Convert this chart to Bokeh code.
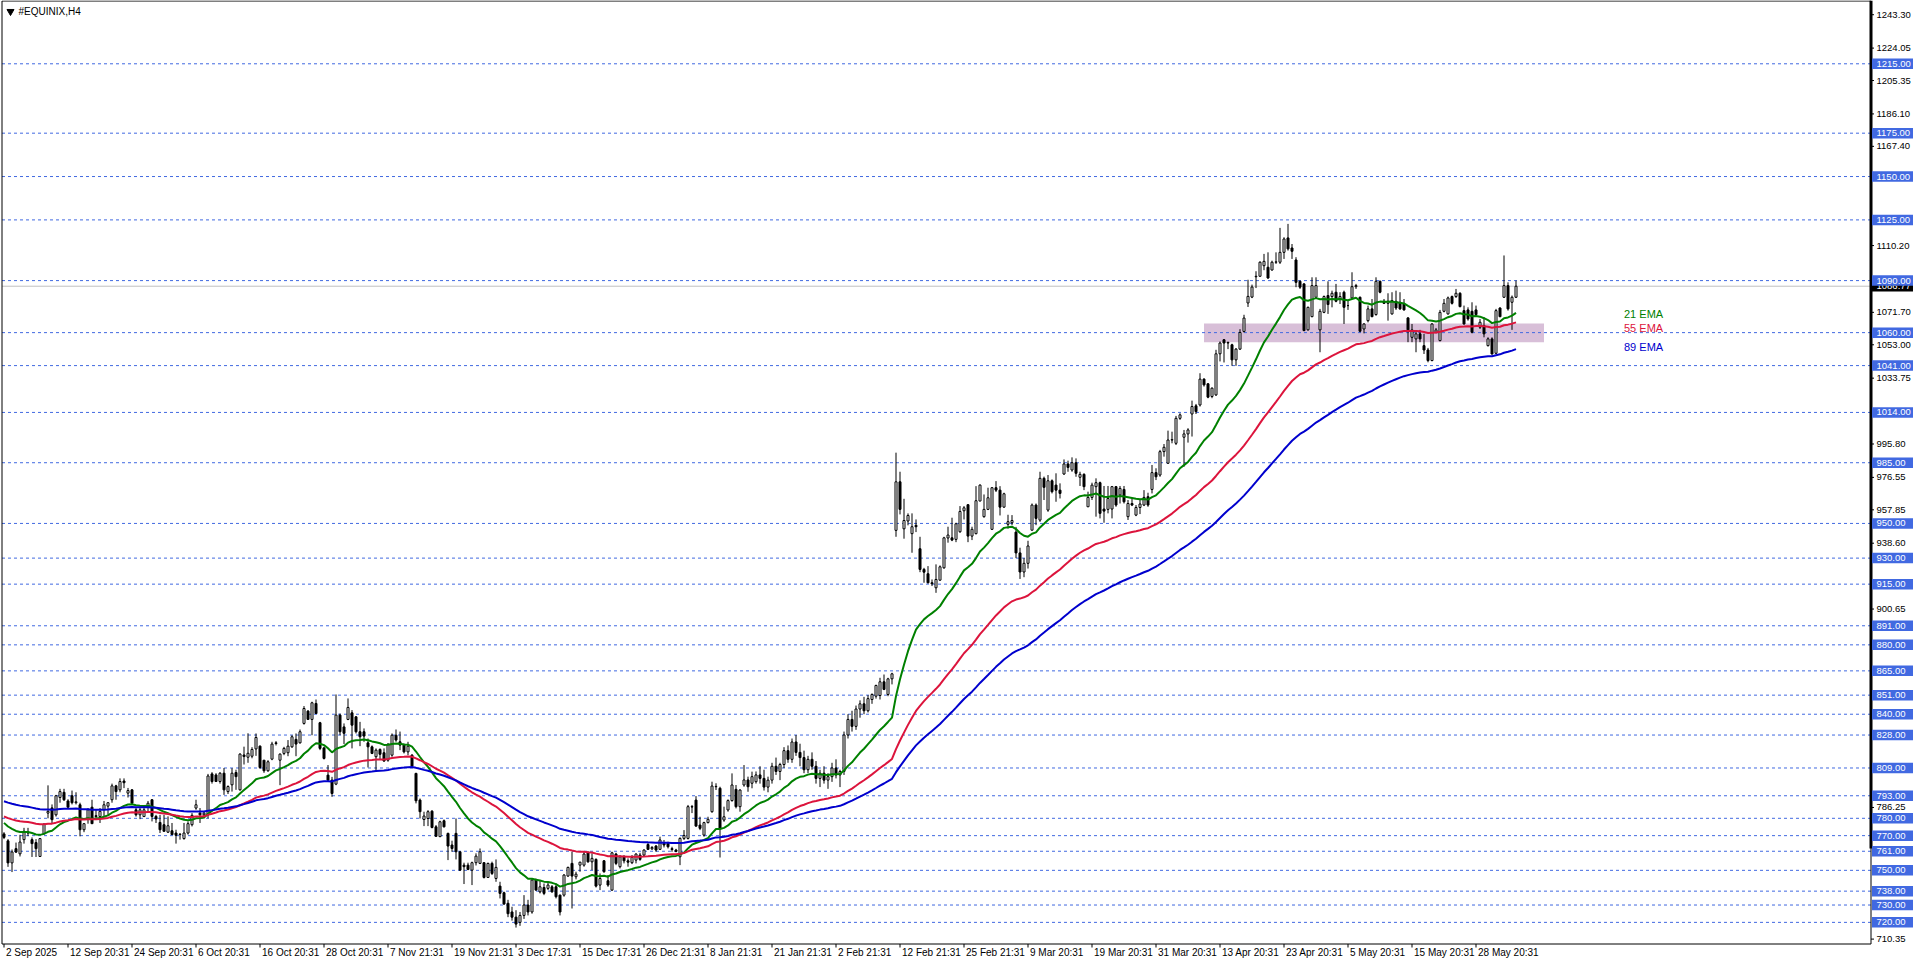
from bokeh.plotting import figure
from bokeh.models import Range1d, ColumnDataSource
from bokeh.embed import file_html
from bokeh.resources import INLINE
from bokeh.core.properties import value

symbol_title = "#EQUINIX,H4"

opens = [
 771, 767, 754.3, 762.5, 759.5, 767.7, 772, 767.7, 766, 758,
 771, 783, 786, 782, 792, 795, 790, 793, 789, 787.8,
 773.4, 780, 786.4, 781.5, 781, 785, 787, 790.7, 798.7, 796.4,
 801.5, 794.5, 796.4, 784.9, 782, 781, 786.4, 790.7, 781.1, 777.6,
 776.3, 772, 772.8, 771.5, 770.6, 768.3, 771.5, 776.3, 785.9, 783,
 782, 782, 805.6, 805, 801.2, 806, 795.4, 799.3, 806.4, 796.4,
 816.5, 815.2, 815.8, 820, 821.6, 813.5, 807.4, 814.1, 823.5, 813.5,
 817.4, 817.8, 821.2, 825.5, 823.5, 834.7, 841.8, 837.0, 846.2, 835.1,
 820.6, 804.9, 802.0, 799.7, 839.5, 832.7, 837.0, 840.8, 838.5, 829.9,
 829.9, 823.5, 821.2, 815.5, 819.7, 817.8, 813.5, 816.4, 827.9, 824.1,
 822.2, 818.3, 816.4, 805.9, 790.5, 779.3, 779.9, 784.1, 775.1, 769.4,
 778.6, 771.3, 764.6, 771.3, 760.7, 753.0, 753.0, 750.1, 754.4, 754.0,
 754.4, 745.9, 754.0, 745.3, 740.9, 737.1, 731, 726, 723, 720,
 724, 730, 726, 744.4, 737.6, 740.1, 739.6, 740.5, 740.5, 735.7,
 735.7, 746.7, 754.0, 746.3, 753.0, 753.0, 760.1, 754.9, 756.3, 741.5,
 755.5, 744.0, 738.6, 759.4, 752.1, 757.8, 755.5, 754.4, 755.9, 758.8,
 758.8, 764.9, 762.4, 764.0, 762.1, 765.5, 765.5, 762.5, 761.7, 757.8,
 768.4, 768.4, 786.7, 790.5, 776.1, 770.3, 777.5, 783.8, 798.2, 797.3,
 779.0, 784.8, 790.2, 796.7, 786.7, 799.2, 802.1, 800.2, 801.1, 805,
 803, 798, 802, 810, 807, 811, 819, 814, 824, 818,
 815, 808, 814, 810, 803, 806, 802, 804, 809, 805,
 807, 828, 837, 833, 843, 846, 842, 848.5, 850.4, 850.8,
 858.7, 851.4, 860.4, 946.0, 974.0, 946.9, 951.4, 944.1, 948.9, 935.4,
 923.5, 921.0, 915.8, 912.9, 917.3, 924.4, 941.6, 941.7, 940.8, 945.2,
 957.3, 960.8, 942.7, 944.1, 962.9, 953.9, 958.1, 946.6, 970.6, 969.2,
 959.4, 949.5, 950.4, 945, 933, 922, 927, 946.1, 960.6, 951.9,
 976.0, 957.7, 974.6, 972.1, 969.2, 978.5, 984.3, 980.8, 985.0, 976.6,
 978.3, 959.6, 965.0, 971.2, 973.5, 958.3, 958.1, 958.3, 971.2, 966.4,
 969.6, 953.9, 961.5, 954.8, 959.2, 960.6, 965.4, 969.6, 979.3, 977.9,
 991.4, 984.7, 998.1, 996.2, 1010.6, 999.7, 1001.6, 1013.1, 1017.8, 1018.3,
 1033.2, 1030.5, 1023.2, 1024.1, 1047.8, 1055.9, 1054.3, 1053.0, 1044.3, 1050.5,
 1060.7, 1077.1, 1080.5, 1092.2, 1092.5, 1098.6, 1097.7, 1096.1, 1100.6, 1100.6,
 1106.3, 1114.6, 1108.8, 1101.9, 1089.6, 1088.1, 1061.6, 1069.2, 1080.4, 1061.6,
 1071.7, 1081.4, 1080.8, 1083.3, 1079.4, 1083.3, 1075.6, 1080.0, 1086.5, 1080.4,
 1062.1, 1066.9, 1073.7, 1070.4, 1089.6, 1078.1, 1076.9, 1070.8, 1078.1, 1077.5,
 1076.5, 1068.5, 1057.3, 1056.4, 1059.3, 1052.5, 1050.0, 1043.9, 1060.2, 1055.4,
 1072.3, 1070.8, 1080.8, 1080.8, 1082.7, 1072.7, 1073.1, 1072.3, 1073.1, 1063.1,
 1064.1, 1052.5, 1056.4, 1048.1, 1074.2, 1080.4, 1087.1, 1077.5, 1080.4,
]

highs = [
 772, 768, 762, 766, 770.5, 774.5, 774.5, 769, 768, 768.5,
 777, 799, 788, 793.5, 797, 797, 791, 796, 795, 789,
 777, 785.9, 790.7, 785, 785.9, 790, 789, 800, 799.3, 803,
 803, 797.5, 796.8, 786, 786.4, 786.4, 790, 791, 782, 782,
 782, 781.1, 777.3, 773.4, 771.5, 777.3, 778.2, 783, 790.7, 785.9,
 784, 805.6, 806.6, 806, 806.6, 809, 799, 808.9, 808, 817.5,
 821.3, 829, 821, 828.9, 822.0, 813.5, 813.5, 824.1, 824.5, 817.4,
 821.2, 825.1, 827.9, 828.9, 831.2, 844.7, 842.4, 847.2, 848.5, 835.6,
 821.2, 810.7, 803.9, 851.4, 840.4, 834.7, 849.1, 842.4, 838.9, 835.6,
 831.8, 826.0, 822.0, 820.3, 820.3, 820.3, 823.1, 828.9, 831.2, 830.0,
 823.1, 824.1, 817.0, 806.2, 791.4, 783.8, 784.7, 784.7, 776.1, 778.6,
 779.3, 771.7, 767.1, 779.9, 760.7, 754.4, 754.4, 755.0, 759.8, 762.6,
 754.8, 754.4, 755.0, 756.3, 743.4, 737.7, 733, 729, 727, 726,
 735.7, 733, 744.8, 745.3, 744.4, 742.4, 743.4, 741.5, 742.4, 736.0,
 747.8, 752.1, 760.7, 749.2, 754.9, 760.7, 761.1, 759.8, 756.9, 748.2,
 755.9, 747.3, 760.7, 760.1, 758.8, 758.8, 756.9, 758.8, 759.8, 760.1,
 762.1, 765.9, 764.0, 764.6, 769.4, 767.5, 766.5, 763.6, 762.4, 769.0,
 773.2, 787.7, 787.7, 792.8, 780.9, 778.0, 780.9, 801.1, 800.2, 798.2,
 786.7, 790.9, 805.9, 799.2, 796.7, 810.7, 804.0, 806.9, 807, 810,
 808, 804, 812, 815, 812, 821, 822, 826, 828, 823,
 819, 816, 818, 813, 808, 810, 806, 812, 814, 808,
 830, 840, 842, 845, 848, 850, 851, 852, 857, 861,
 862.9, 861, 863.9, 990.8, 979.8, 964.2, 955.8, 955.8, 952.3, 942.3,
 924.4, 925.4, 917.7, 926.4, 925.8, 942.3, 948.1, 953.3, 950.4, 960.0,
 960.0, 961.0, 948.1, 971.5, 972.5, 966.7, 970.6, 971.0, 974.4, 971.5,
 967.7, 955, 954.8, 948, 936, 930, 940, 961.5, 961.5, 979.8,
 977, 977.9, 975.4, 978.9, 973.1, 986.9, 986.2, 988.1, 987.5, 979.8,
 978.9, 968.3, 973.5, 976.0, 974.1, 971.6, 971.6, 971.6, 971.6, 971.6,
 971.6, 963.5, 964.4, 960.6, 963.5, 969.2, 967.7, 983.7, 981.8, 992.4,
 995.8, 1003.5, 1002.9, 1012.0, 1013.5, 1003.9, 1004.9, 1020.8, 1018.9, 1036.6,
 1033.7, 1030.9, 1028.4, 1050.1, 1054.9, 1056.3, 1054.9, 1053.6, 1051.1, 1062.0,
 1070.3, 1090.5, 1087.7, 1095.4, 1101.1, 1105.4, 1106.3, 1101.5, 1106.3, 1120.4,
 1115.0, 1122.7, 1111.1, 1103.5, 1090.0, 1088.5, 1075.0, 1091.9, 1091.9, 1073.7,
 1081.4, 1089.6, 1084.2, 1088.1, 1083.3, 1084.2, 1078.5, 1094.8, 1088.1, 1080.8,
 1065.4, 1075.6, 1079.4, 1091.9, 1090.0, 1079.4, 1082.7, 1083.3, 1084.2, 1083.3,
 1079.4, 1068.9, 1065.0, 1061.2, 1061.6, 1059.3, 1051.2, 1065.4, 1062.7, 1073.1,
 1079.4, 1080.8, 1081.4, 1085.2, 1083.3, 1075.6, 1074.6, 1077.5, 1075.6, 1067.9,
 1068.9, 1057.3, 1057.3, 1073.7, 1074.6, 1104.5, 1089.0, 1081.4, 1090.0,
]

lows = [
 768, 752, 749, 760, 758, 765.4, 769.7, 757.7, 757.7, 758,
 771, 780, 777, 781, 789, 790, 786, 788, 788, 769.6,
 772, 776.9, 776.9, 779, 777.3, 781, 782, 789, 790.7, 795,
 797.4, 792, 787.8, 781, 779.5, 781, 784, 778.2, 777.3, 771.5,
 772.5, 771.5, 770.6, 765.4, 767.7, 767.7, 770.6, 775.3, 784.9, 777.3,
 780, 780, 800, 801, 800, 793.5, 794, 795.4, 796.4, 796,
 811, 812, 814.6, 816, 808.5, 806.2, 806.8, 813.5, 822.0, 799.1,
 816.4, 815.8, 820.6, 815.8, 823.1, 834.0, 837.0, 827.9, 840.4, 819.3,
 813.9, 801.1, 792.4, 799.1, 827.9, 822.8, 836.6, 820.3, 828.9, 821.6,
 824.1, 809.3, 817.0, 806.8, 814.1, 812.6, 812.6, 815.5, 824.1, 819.3,
 817.4, 816.4, 809.3, 788.6, 779.9, 775.5, 775.5, 774.2, 769.4, 769.4,
 774.7, 755.9, 760.7, 756.3, 749.8, 742.1, 750.1, 741.5, 752.8, 753.6,
 745.3, 745.9, 747.3, 743.4, 733.8, 730.0, 723, 721, 717, 718,
 722, 724, 725, 738.2, 736.7, 735.7, 738.6, 737.1, 733.8, 724.0,
 734.8, 746.3, 728.0, 744.8, 749.2, 752.1, 754.4, 750.1, 740.1, 738.6,
 748.6, 740.5, 738.2, 753.0, 751.1, 754.0, 752.1, 753.6, 754.0, 755.5,
 757.8, 761.7, 761.7, 760.7, 761.7, 763.2, 762.6, 760.7, 760.4, 753.0,
 767.5, 767.8, 783.0, 775.1, 773.2, 769.4, 777.1, 783.2, 796.3, 757.4,
 778.0, 783.8, 789.6, 785.7, 783.8, 798.2, 795.3, 797.3, 800, 800,
 796, 795, 800, 805, 802, 809, 812, 812, 816, 810,
 806, 806, 808, 800, 798, 800, 797, 801, 803, 798,
 805, 826, 830, 831, 838, 840, 841, 846, 849, 848.5,
 853.9, 850.4, 857.2, 942.3, 955.2, 941.2, 948.9, 933.1, 945.0, 921.9,
 915.8, 915.4, 913.9, 910.0, 916.9, 923.9, 938.9, 939.8, 939.2, 944.6,
 952.3, 939.2, 940.4, 943.7, 962.9, 953.3, 957.7, 946.2, 968.1, 954.6,
 959.0, 947, 949, 930, 918, 919, 924, 946.1, 949, 950.9,
 963.5, 956.7, 967.3, 962.5, 964.4, 978, 979.8, 979.8, 976.9, 971.6,
 969.2, 959.6, 963.5, 953.9, 952.9, 950.4, 955.8, 952.9, 959.6, 961.5,
 961.5, 952.0, 960.0, 954.2, 955.4, 960.0, 959.6, 967.3, 975.0, 976.9,
 988.5, 984.3, 996.2, 995.2, 1009.7, 982.7, 996.6, 1000.1, 1013.1, 1017.4,
 1028.9, 1022.2, 1022.2, 1023.5, 1043.4, 1042.8, 1050.5, 1040.9, 1040.9, 1050.1,
 1060.1, 1074.8, 1079.9, 1085.7, 1092.5, 1096, 1091.0, 1095.8, 1099.6, 1099.6,
 1102.5, 1107.3, 1102.5, 1086.2, 1085.2, 1060.8, 1061.2, 1068.9, 1079.4, 1048.7,
 1071.2, 1070.8, 1074.6, 1077.5, 1076.5, 1065.0, 1073.1, 1079.4, 1085.2, 1060.2,
 1059.6, 1065.9, 1068.9, 1069.8, 1082.7, 1076.5, 1066.9, 1070.4, 1073.1, 1073.1,
 1072.7, 1054.5, 1054.5, 1048.7, 1054.5, 1047.7, 1042.9, 1043.5, 1059.6, 1055.0,
 1071.7, 1070.4, 1076.2, 1080.0, 1074.6, 1064.6, 1066.9, 1059.6, 1069.8, 1062.1,
 1057.3, 1052.0, 1047.3, 1047.7, 1068.9, 1080.0, 1072.7, 1061.6, 1080.0,
]

closes = [
 769, 754.3, 760.6, 760.5, 766.3, 772.5, 771.5, 765.4, 762.5, 768.3,
 776.7, 784, 779.2, 793, 795.4, 790.7, 786.4, 789, 789.5, 773.4,
 776.9, 784.9, 776.9, 781, 784, 787.8, 789, 798.7, 795.4, 801.2,
 800.5, 796, 788.7, 782, 784.9, 784.9, 788.7, 781.1, 779.6, 773.4,
 772.5, 775.7, 770.6, 770.2, 770.8, 771.5, 776.9, 781.7, 787.8, 782,
 783, 804.4, 801.2, 801.2, 806, 796.4, 798.3, 806, 804, 817,
 815.6, 817.5, 819.7, 826.6, 809.3, 807.4, 812.6, 822.8, 823.1, 817.0,
 820.3, 821.6, 827.0, 822.8, 829.9, 843.3, 837.0, 846.6, 840.4, 820.3,
 814.5, 802.0, 794.3, 839.5, 829.9, 829.0, 843.9, 833.7, 829.9, 827.0,
 827.4, 821.2, 817.4, 819.3, 816.9, 813.0, 822.8, 827.9, 825.1, 822.2,
 818.3, 821.6, 810.1, 790.1, 783.8, 781.3, 783.8, 774.7, 769.6, 778.0,
 775.1, 764.0, 762.6, 760.7, 750.1, 752.1, 750.5, 754.4, 758.2, 760.7,
 745.9, 754.0, 748.2, 751.7, 736.7, 730.6, 725, 723, 719, 724,
 730, 726, 744.4, 738.6, 740.5, 736.7, 741.5, 737.6, 734.8, 726.0,
 747.3, 751.7, 746.7, 747.8, 754.7, 759.4, 754.9, 756.9, 740.9, 745.3,
 749.2, 741.5, 760.1, 754.0, 757.8, 755.5, 754.7, 757.4, 759.4, 756.3,
 761.7, 762.1, 763.2, 761.7, 767.5, 764.6, 763.6, 762.0, 760.9, 768.4,
 770.1, 786.7, 786.5, 775.5, 774.2, 777.5, 779.4, 798.6, 798.4, 774.2,
 780.9, 790.2, 799.2, 786.7, 796.3, 802.1, 798.2, 804.0, 805.0, 803,
 798, 802, 810, 807, 811, 819, 814, 824, 818, 815,
 808, 814, 810, 803, 806, 802, 804, 809, 805, 807,
 828, 837, 833, 843, 846, 842, 849, 851.4, 856.6, 858.7,
 854.3, 860.4, 863.3, 974.0, 958.1, 951.7, 954.6, 948.1, 948.1, 923.5,
 921.9, 915.8, 915.2, 917.7, 925.0, 941.7, 943.3, 940.4, 949.8, 956.9,
 959.0, 942.7, 946.6, 963.1, 972.1, 958.1, 964.8, 970.6, 969.2, 959.4,
 967.1, 951, 951.7, 933, 922, 927, 937, 960.6, 952.9, 976.0,
 970.8, 974.6, 968.3, 969.2, 967.3, 984.3, 982.3, 985.0, 978.9, 978.3,
 971.2, 965.0, 972.1, 973.5, 955.8, 957.1, 964.4, 971.2, 960.6, 970.2,
 962.5, 961.5, 960.6, 959.2, 961.2, 965.0, 960.6, 979.3, 976.9, 991.4,
 993.9, 998.1, 998.3, 1010.6, 1012.6, 1001.6, 1003.9, 1017.4, 1014.5, 1033.2,
 1029.9, 1022.8, 1028.0, 1047.8, 1054.0, 1054.0, 1054.0, 1044.3, 1050.5, 1060.1,
 1068.4, 1080.9, 1086.3, 1092.5, 1100.6, 1101.1, 1091.5, 1100.6, 1100.8, 1106.3,
 1114.0, 1108.3, 1106.9, 1089.0, 1086.2, 1061.2, 1074.6, 1087.1, 1087.1, 1072.3,
 1080.8, 1076.2, 1082.7, 1078.1, 1080.8, 1074.6, 1075.6, 1086.5, 1087.1, 1060.8,
 1065.0, 1073.7, 1069.2, 1089.6, 1083.3, 1076.9, 1078.1, 1078.5, 1074.2, 1073.7,
 1073.1, 1061.6, 1061.6, 1059.3, 1056.4, 1050.0, 1043.9, 1065.0, 1061.6, 1071.7,
 1076.9, 1080.0, 1076.9, 1082.7, 1075.0, 1065.0, 1067.9, 1060.2, 1070.4, 1066.0,
 1059.3, 1056.4, 1047.7, 1072.7, 1069.2, 1087.1, 1073.7, 1080.4, 1086.77,
]

date_labels = ["2 Sep 2025", "12 Sep 20:31", "24 Sep 20:31", "6 Oct 20:31", "16 Oct 20:31",
               "28 Oct 20:31", "7 Nov 21:31", "19 Nov 21:31", "3 Dec 17:31", "15 Dec 17:31",
               "26 Dec 21:31", "8 Jan 21:31", "21 Jan 21:31", "2 Feb 21:31", "12 Feb 21:31",
               "25 Feb 21:31", "9 Mar 20:31", "19 Mar 20:31", "31 Mar 20:31", "13 Apr 20:31",
               "23 Apr 20:31", "5 May 20:31", "15 May 20:31", "28 May 20:31"]
date_bars = [0, 16, 32, 48, 64, 80, 96, 112, 128, 144, 160, 176, 192, 208, 224, 240,
             256, 272, 288, 304, 320, 336, 352, 368]

price_ticks = [1243.30, 1224.05, 1205.35, 1186.10, 1167.40, 1110.20, 1071.70, 1053.00,
               1033.75, 995.80, 976.55, 957.85, 938.60, 900.65, 786.25, 710.35]

levels = [1215, 1175, 1150, 1125, 1090, 1060, 1041, 1014, 985, 950, 930, 915, 891, 880,
          865, 851, 840, 828, 809, 793, 780, 770, 761, 750, 738, 730, 720]

current_price = 1086.77
zone_bars = [300, 385]
zone_prices = [1054.5, 1065.3]

ema_periods = [21, 55, 89]
ema_start = [778.2, 781.5, 790.3]
ema_colors = ["#008000", "#DC143C", "#0000CD"]
ema_names = ["21 EMA", "55 EMA", "89 EMA"]
ema_label_prices = [1070.5, 1062.7, 1052.0]
ema_label_bar = 405

FONT = "Liberation Sans"
LEVEL_BLUE = "#4169E1"

# ---------------------------------------------------------------- layout scale
W, H = 1916, 963
BAR_PX = 4.0          # pixels per bar
BAR0_PX = 3.5         # canvas x of bar 0
PPX = 1.7345          # pixels per price unit
Y_TOP = 1251.49       # price at canvas top
CHART_R = 1870        # canvas x of the price-scale border
CHART_B = 943         # canvas y of the time-scale border


def xd(px):
    return (px - BAR0_PX) / BAR_PX


def yd(py):
    return Y_TOP - py / PPX


n = len(closes)
idx = list(range(n))


def ema(vals, period, seed):
    a = 2.0 / (period + 1)
    out = []
    e = seed
    for v in vals:
        e = e + a * (v - e)
        out.append(e)
    return out


src = ColumnDataSource(dict(
    x=idx, h=highs, l=lows,
    top=[max(o, c) for o, c in zip(opens, closes)],
    bottom=[min(o, c) for o, c in zip(opens, closes)],
    fill=["white" if c >= o else "black" for o, c in zip(opens, closes)],
))

p = figure(width=W, height=H, x_range=Range1d(xd(0), xd(W)), y_range=Range1d(yd(H), yd(0)),
           output_backend="svg", toolbar_location=None, title=None,
           x_axis_location=None, y_axis_location=None,
           min_border_left=0, min_border_right=0, min_border_top=0, min_border_bottom=0,
           background_fill_color="white", border_fill_color="white")
p.grid.visible = False
p.outline_line_color = None

xl, xr = xd(1.5), xd(CHART_R + 0.5)
yb = yd(CHART_B + 0.5)

# zone rectangle (background object)
p.quad(left=[zone_bars[0]], right=[zone_bars[1]], bottom=[zone_prices[0]], top=[zone_prices[1]],
       fill_color="#D8BFD8", line_color=None)

# horizontal levels and current price line
p.segment(x0=[xl] * len(levels), y0=levels, x1=[xr] * len(levels), y1=levels,
          line_color=LEVEL_BLUE, line_width=1, line_dash="3 3")
p.segment(x0=[xl], y0=[current_price], x1=[xr], y1=[current_price], line_color="#C0C0C0", line_width=1)

# candles
p.segment(x0="x", y0="l", x1="x", y1="h", source=src, line_color="black", line_width=1)
p.vbar(x="x", width=0.5, top="top", bottom="bottom", fill_color="fill",
       line_color="black", line_width=1, source=src)

# EMAs
for per, seed, col in zip(ema_periods, ema_start, ema_colors):
    p.line(idx, ema(closes, per, seed), line_color=col, line_width=2)

p.text(x=[ema_label_bar] * 3, y=ema_label_prices, text=ema_names, text_color=ema_colors,
       text_font=value(FONT), text_font_size="11px", text_baseline="middle", text_align="left")

# chart frame
p.segment(x0=[xl, xl, xl, xr], y0=[yd(0.5), yd(0.5), yb, yd(0.5)],
          x1=[xr, xl, xr, xr], y1=[yd(0.5), yb, yb, yb], line_color="black", line_width=1)
p.segment(x0=[xr], y0=[yd(0)], x1=[xr], y1=[yd(848)], line_color="black", line_width=3)

# title
p.scatter(x=[xd(10)], y=[yd(11)], marker="inverted_triangle", size=7, color="black")
p.text(x=[xd(18)], y=[yd(11)], text=[symbol_title], text_font=value(FONT), text_font_size="10px",
       text_baseline="middle", text_align="left", text_color="black")

# time scale
p.segment(x0=date_bars, y0=[yb] * len(date_bars), x1=date_bars, y1=[yd(CHART_B + 4)] * len(date_bars),
          line_color="black", line_width=1)
p.text(x=[b + 0.5 for b in date_bars], y=[yd(952)] * len(date_bars), text=date_labels,
       text_font=value(FONT), text_font_size="10px", text_baseline="middle", text_align="left",
       text_color="black")

# price scale
p.segment(x0=[xr] * len(price_ticks), y0=price_ticks, x1=[xd(CHART_R + 3.5)] * len(price_ticks),
          y1=price_ticks, line_color="black", line_width=1)
p.text(x=[xd(CHART_R + 6)] * len(price_ticks), y=price_ticks, text=[f"{t:.2f}" for t in price_ticks],
       text_font=value(FONT), text_font_size="9.5px", text_baseline="middle", text_align="left",
       text_color="black")

box_l, box_r = xd(CHART_R + 1.5), xd(1912.5)
box_h = 10.5 / PPX
p.quad(left=[box_l], right=[box_r], bottom=[current_price - box_h / 2], top=[current_price + box_h / 2],
       fill_color="black", line_color=None)
p.text(x=[xd(CHART_R + 6)], y=[current_price], text=[f"{current_price:.2f}"], text_font=value(FONT),
       text_font_size="9.5px", text_baseline="middle", text_align="left", text_color="white")

p.quad(left=[box_l] * len(levels), right=[box_r] * len(levels),
       bottom=[lv - box_h / 2 for lv in levels], top=[lv + box_h / 2 for lv in levels],
       fill_color=LEVEL_BLUE, line_color=None)
p.text(x=[xd(CHART_R + 6)] * len(levels), y=levels, text=[f"{lv:.2f}" for lv in levels],
       text_font=value(FONT), text_font_size="9.5px", text_baseline="middle", text_align="left",
       text_color="white")

open("out.html", "w").write(file_html(p, INLINE))
